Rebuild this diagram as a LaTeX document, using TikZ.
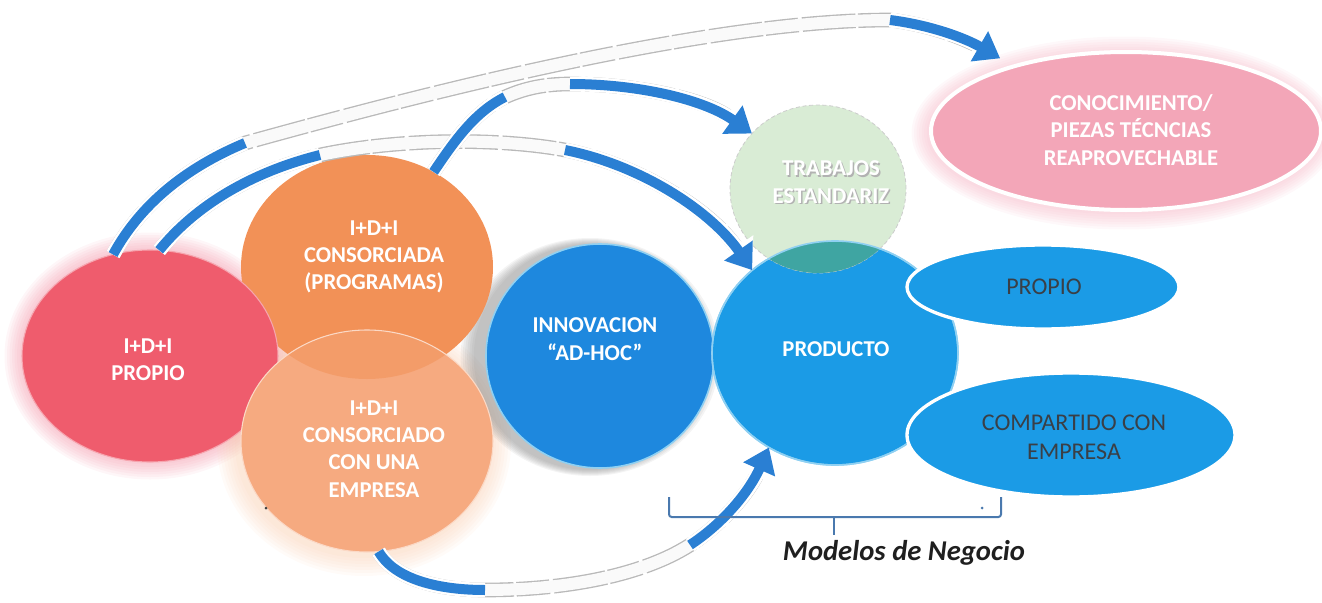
\documentclass[tikz,border=0pt]{standalone}
\usepackage{fontspec}
\setmainfont{Carlito}
\usetikzlibrary{shapes.geometric,arrows.meta}
\definecolor{redC}{HTML}{EF5C6D}
\definecolor{redGlow}{HTML}{F28BA0}
\definecolor{orangeC}{HTML}{F29157}
\definecolor{peachC}{HTML}{F6AA80}
\definecolor{peachGlow}{HTML}{F9C9A8}
\definecolor{innoC}{HTML}{1E88DE}
\definecolor{prodC}{HTML}{1B9BE6}
\definecolor{edgeC}{HTML}{8FD0F2}
\definecolor{trabC}{HTML}{D7EBD3}
\definecolor{lensC}{HTML}{3FA5A2}
\definecolor{conoC}{HTML}{F3A6B8}
\definecolor{conoGlow}{HTML}{F5B3C3}
\definecolor{arrowC}{HTML}{2A7FD3}
\definecolor{darkT}{HTML}{3A3F46}
\definecolor{braceC}{HTML}{4A79AE}
\begin{document}
\begin{tikzpicture}[x=0.75pt,y=-0.75pt,
  blob/.style={ellipse,inner sep=0pt,outer sep=0pt},
  wt/.style={text=white,font=\bfseries\fontsize{17}{20.5}\selectfont,align=center,inner sep=0pt},
  dt/.style={text=darkT,font=\fontsize{18}{21.5}\selectfont,align=center,inner sep=0pt},
  sketch/.style={draw=gray!55,line width=11pt,dash pattern=on 40pt off 2pt on 25pt off 3pt},
  sketchin/.style={draw=white!96!gray,line width=9pt},
  bandw/.style={draw=white,line width=11pt},
  band/.style={draw=arrowC,line width=7.5pt},
  tipw/.style={-{Triangle[width=30pt,length=21pt]}},
  tipb/.style={-{Triangle[width=25pt,length=18pt]}},
  bracestyle/.style={draw=braceC,line width=1.5pt}
]
\useasboundingbox (0,0) rectangle (1322,603);

% ---------- glows ----------
\foreach \i [evaluate=\i as \rx using 128+2.5*\i, evaluate=\i as \ry using 106+2.5*\i] in {1,...,7}
  \fill[redGlow,opacity=0.08] (150,356) ellipse [x radius=\rx, y radius=\ry];
\foreach \i [evaluate=\i as \rx using 126+3*\i, evaluate=\i as \ry using 111+3*\i] in {1,...,7}
  \fill[peachGlow,opacity=0.08] (364,444) ellipse [x radius=\rx, y radius=\ry];
\foreach \i [evaluate=\i as \rx using 195+2.5*\i, evaluate=\i as \ry using 79+2.5*\i] in {1,...,7}
  \fill[conoGlow,opacity=0.09] (1124,133) ellipse [x radius=\rx, y radius=\ry];
\foreach \i [evaluate=\i as \rx using 114+2.2*\i, evaluate=\i as \ry using 112+1*\i] in {1,...,7}
  \fill[gray,opacity=0.09] (590,357) ellipse [x radius=\rx, y radius=\ry];

% ---------- circles ----------
\node[blob,fill=orangeC,minimum width=189pt,minimum height=168pt] (cons) at (367,267) {};
\node[blob,fill=redC,draw=redC!55!white,line width=0.8pt,minimum width=192pt,minimum height=159pt] (pr) at (150,356) {};
\node[blob,fill=peachC,minimum width=189pt,minimum height=166.5pt] (emp) at (367,441) {};
\begin{scope}
  \clip (367,441) ellipse [x radius=126, y radius=111];
  \fill[orangeC,opacity=0.55] (367,267) ellipse [x radius=126, y radius=112];
\end{scope}
\draw[peachC!45!white,line width=0.8pt] (367,441) ellipse [x radius=126, y radius=111];

\node[blob,fill=innoC,draw=edgeC,line width=1.2pt,minimum width=171pt,minimum height=168pt] (inn) at (600,356) {};
\node[blob,fill=prodC,draw=edgeC,line width=1.2pt,minimum width=184.5pt,minimum height=168pt] (prod) at (835,353) {};
\node[blob,fill=trabC,fill opacity=0.95,draw=gray!40,densely dashed,line width=0.6pt,minimum width=132pt,minimum height=126pt] (trab) at (818,189) {};
\begin{scope}
  \clip (835,353) ellipse [x radius=123, y radius=112];
  \fill[lensC] (818,189) ellipse [x radius=88, y radius=84];
\end{scope}
\draw[edgeC,line width=1.2pt] (835,353) ellipse [x radius=123, y radius=112];

\node[blob,fill=prodC,draw=white,line width=2.5pt,minimum width=204pt,minimum height=63pt] (pro2) at (1043,287) {};
\node[blob,fill=prodC,draw=white,line width=2.5pt,minimum width=246pt,minimum height=93pt] (comp) at (1071,435) {};
\node[blob,fill=conoC,draw=white,line width=3pt,minimum width=292.5pt,minimum height=118.5pt] (cono) at (1126,131) {};

% ---------- arrows ----------
% A: I+D+I propio -> conocimiento
\coordinate (a1) at (245,143);
\coordinate (a2) at (890,20);
\draw[sketch,shorten >=22pt] (pr.110) .. controls (140,205) and (185,168) .. (a1) .. controls (400,100) and (700,20) .. (a2) .. controls (930,25) and (965,38) .. (cono.150);
\draw[sketchin,shorten >=22pt] (pr.110) .. controls (140,205) and (185,168) .. (a1) .. controls (400,100) and (700,20) .. (a2) .. controls (930,25) and (965,38) .. (cono.150);
\draw[bandw] (pr.110) .. controls (140,205) and (185,168) .. (a1);
\draw[band] (pr.110) .. controls (140,205) and (185,168) .. (a1);
\draw[bandw,tipw,shorten >=12pt] (a2) .. controls (930,25) and (965,38) .. (cono.150);
\draw[band,tipb,shorten >=12pt] (a2) .. controls (930,25) and (965,38) .. (cono.150);

% B: I+D+I propio -> producto
\coordinate (b1) at (320,155);
\coordinate (b2) at (565,150);
\draw[sketch,shorten >=22pt] (pr.85) .. controls (200,200) and (260,170) .. (b1) .. controls (400,138) and (500,138) .. (b2) .. controls (640,165) and (710,210) .. (prod.135);
\draw[sketchin,shorten >=22pt] (pr.85) .. controls (200,200) and (260,170) .. (b1) .. controls (400,138) and (500,138) .. (b2) .. controls (640,165) and (710,210) .. (prod.135);
\draw[bandw] (pr.85) .. controls (200,200) and (260,170) .. (b1);
\draw[band] (pr.85) .. controls (200,200) and (260,170) .. (b1);
\draw[bandw,tipw] (b2) .. controls (640,165) and (710,210) .. (prod.135);
\draw[band,tipb] (b2) .. controls (640,165) and (710,210) .. (prod.135);

% C: consorciada -> trabajos
\coordinate (c1) at (505,97);
\coordinate (c2) at (570,84);
\draw[sketch,shorten >=22pt] (cons.55) .. controls (455,140) and (475,112) .. (c1) .. controls (525,88) and (545,84) .. (c2) .. controls (640,84) and (705,100) .. (trab.140);
\draw[sketchin,shorten >=22pt] (cons.55) .. controls (455,140) and (475,112) .. (c1) .. controls (525,88) and (545,84) .. (c2) .. controls (640,84) and (705,100) .. (trab.140);
\draw[bandw] (cons.55) .. controls (455,140) and (475,112) .. (c1);
\draw[band] (cons.55) .. controls (455,140) and (475,112) .. (c1);
\draw[bandw,tipw] (c2) .. controls (640,84) and (705,100) .. (trab.140);
\draw[band,tipb] (c2) .. controls (640,84) and (705,100) .. (trab.140);

% D: consorciado con una empresa -> producto
\coordinate (d1) at (485,590);
\coordinate (d2) at (690,545);
\draw[sketch,shorten >=22pt] (emp.-84) .. controls (395,580) and (440,590) .. (d1) .. controls (560,590) and (640,577) .. (d2) .. controls (725,522) and (750,490) .. (prod.235);
\draw[sketchin,shorten >=22pt] (emp.-84) .. controls (395,580) and (440,590) .. (d1) .. controls (560,590) and (640,577) .. (d2) .. controls (725,522) and (750,490) .. (prod.235);
\draw[bandw] (emp.-84) .. controls (395,580) and (440,590) .. (d1);
\draw[band] (emp.-84) .. controls (395,580) and (440,590) .. (d1);
\draw[bandw,tipw] (d2) .. controls (725,522) and (750,490) .. (prod.235);
\draw[band,tipb] (d2) .. controls (725,522) and (750,490) .. (prod.235);

% ---------- texts ----------
\node[wt] (t-pr) at (148,360) {I+D+I\\PROPIO};
\node[wt] (t-cons) at (374,257) {I+D+I\\CONSORCIADA\\(PROGRAMAS)};
\node[wt] (t-emp) at (374,449) {I+D+I\\CONSORCIADO\\CON UNA\\EMPRESA};
\node[wt] (t-inn) at (595,339) {INNOVACION\\“AD-HOC”};
\node[wt] (t-prod) at (836,349) {PRODUCTO};
\node[wt,text=gray!60] (t-trab-s) at (832.5,183.5) {TRABAJOS\\ESTANDARIZ};
\node[wt] (t-trab) at (831,182) {TRABAJOS\\ESTANDARIZ};
\node[wt] (t-cono) at (1131,130) {CONOCIMIENTO/\\PIEZAS TÉCNCIAS\\REAPROVECHABLE};
\node[dt] (t-pro2) at (1044,287) {PROPIO};
\node[dt] (t-comp) at (1074,437) {COMPARTIDO CON\\EMPRESA};

% ---------- brace ----------
\coordinate (bl) at (669,497);
\coordinate (br) at (1001,497);
\coordinate (bm) at (834,517);
\coordinate (bt) at (834,535);
\draw[bracestyle,rounded corners=2pt] (bl) -- (669,517) -- (1001,517) -- (br);
\draw[bracestyle] (bm) -- (bt);
\node[anchor=base,font=\bfseries\itshape\fontsize{21.5}{25}\selectfont,text=black!88] (mdn) at (904,560) {Modelos de Negocio};
\fill[braceC] (982,508) circle [radius=1.5];
\fill[black!75] (266,508) circle [radius=1.5];
\end{tikzpicture}
\end{document}
